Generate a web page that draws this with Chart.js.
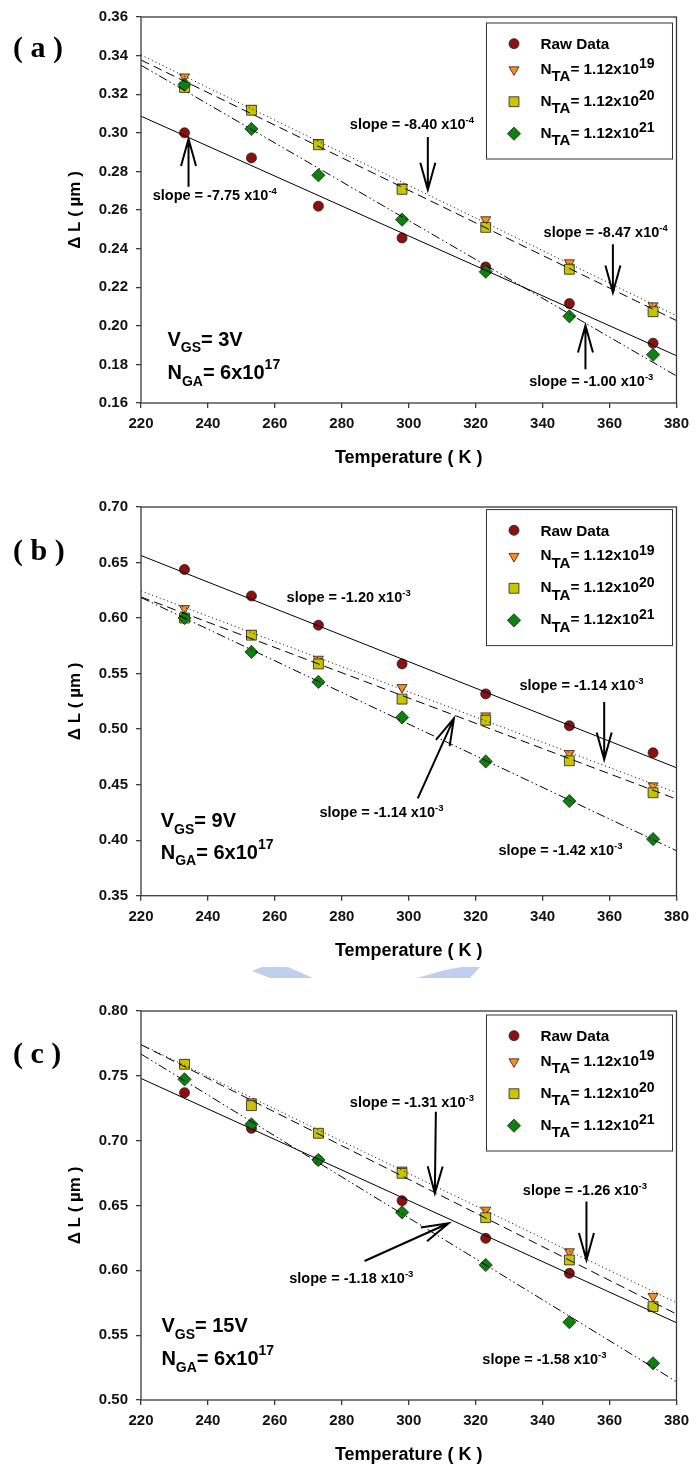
<!DOCTYPE html>
<html>
<head>
<meta charset="utf-8">
<script src="https://cdn.jsdelivr.net/npm/chart.js@4/dist/chart.umd.min.js"></script>
<style>
  body { margin: 0; background: #fff; width: 696px; height: 1470px; position: relative; overflow: hidden; }
  canvas { position: absolute; left: 0; }
</style>
</head>
<body>
<canvas id="chartA" width="696" height="490" style="top:0"></canvas>
<canvas id="chartB" width="696" height="490" style="top:490px"></canvas>
<canvas id="chartC" width="696" height="490" style="top:980px"></canvas>
<script>
// temperatures (K) of the measured points, and the span of the fitted lines
const TEMPS = [233, 253, 273, 298, 323, 348, 373];
const FIT_X = [220, 380];

// (a) V_GS = 3V
const A_RAW = [0.300, 0.287, 0.262, 0.2455, 0.2305, 0.2115, 0.191];
const A_N19 = [0.329, 0.3125, 0.295, 0.272, 0.255, 0.2327, 0.2104];
const A_N20 = [0.3235, 0.3117, 0.2938, 0.2707, 0.251, 0.2293, 0.2073];
const A_N21 = [0.325, 0.302, 0.278, 0.255, 0.228, 0.2049, 0.185];
const A_FIT_RAW = [0.3086, 0.1845];
const A_FIT_N19 = [0.3403, 0.2052];
const A_FIT_N20 = [0.3377, 0.2027];
const A_FIT_N21 = [0.335, 0.174];

// (b) V_GS = 9V
const B_RAW = [0.6437, 0.6199, 0.5936, 0.5587, 0.5317, 0.503, 0.4787];
const B_N19 = [0.6086, 0.586, 0.563, 0.5375, 0.512, 0.4781, 0.449];
const B_N20 = [0.600, 0.5846, 0.5587, 0.527, 0.508, 0.4715, 0.4427];
const B_N21 = [0.600, 0.5695, 0.5425, 0.5105, 0.4709, 0.4352, 0.401];
const B_FIT_RAW = [0.6563, 0.4652];
const B_FIT_N19 = [0.6244, 0.4427];
const B_FIT_N20 = [0.619, 0.437];
const B_FIT_N21 = [0.6185, 0.3905];

// (c) V_GS = 15V
const C_RAW = [0.737, 0.7095, 0.685, 0.6537, 0.6247, 0.5977, 0.572];
const C_N19 = [0.760, 0.730, 0.7062, 0.6774, 0.6465, 0.6144, 0.580];
const C_N20 = [0.7589, 0.727, 0.7057, 0.6748, 0.6406, 0.608, 0.572];
const C_N21 = [0.7473, 0.7126, 0.6851, 0.6447, 0.6041, 0.560, 0.5283];
const C_FIT_RAW = [0.748, 0.5596];
const C_FIT_N19 = [0.7743, 0.575];
const C_FIT_N20 = [0.774, 0.5663];
const C_FIT_N21 = [0.7668, 0.5141];

const LEGEND_EXP = ['19', '20', '21'];

const FONT = '"Liberation Sans", Arial, sans-serif';
const SERIF = '"Liberation Serif", "Times New Roman", serif';

// marker looks: raw, 1e19, 1e20, 1e21
const MARKERS = [
  { style: 'circle', radius: 5, rotation: 0, bg: '#8e0f0f' },
  { style: 'triangle', radius: 5.8, rotation: 180, bg: '#ff8a1e' },
  { style: 'rect', radius: 7, rotation: 0, bg: '#c9c400' },
  { style: 'rectRot', radius: 6.6, rotation: 0, bg: '#0c820c' },
];
const DASHES = [[], [1, 3], [9, 5], [9, 3, 1.5, 3, 1.5, 3]];

const toPts = (xs, ys) => xs.map((x, i) => ({ x: x, y: ys[i] }));

function rich(ctx, x, cy, size, parts) {
  const base = cy + size * 0.36;
  ctx.textAlign = 'left';
  ctx.textBaseline = 'alphabetic';
  let cx = x;
  for (const [t, fs, dy] of parts) {
    ctx.font = `bold ${fs}px ${FONT}`;
    ctx.fillText(t, cx, base + dy);
    cx += ctx.measureText(t).width;
  }
}

function arrow(ctx, x1, y1, x2, y2) {
  const ang = Math.atan2(y2 - y1, x2 - x1);
  const L = 27, W = 7.5;
  const bx = x2 - L * Math.cos(ang), by = y2 - L * Math.sin(ang);
  const nx = -Math.sin(ang) * W, ny = Math.cos(ang) * W;
  ctx.beginPath();
  ctx.moveTo(x1, y1);
  ctx.lineTo(x2, y2);
  ctx.moveTo(bx + nx, by + ny);
  ctx.lineTo(x2, y2);
  ctx.lineTo(bx - nx, by - ny);
  ctx.stroke();
}

function marker(ctx, m, x, y) {
  ctx.fillStyle = m.bg;
  ctx.strokeStyle = '#222';
  ctx.lineWidth = 0.8;
  ctx.beginPath();
  const r = m.radius;
  if (m.style === 'circle') {
    ctx.arc(x, y, r, 0, Math.PI * 2);
  } else if (m.style === 'triangle') {
    ctx.moveTo(x, y + r);
    ctx.lineTo(x - r * 0.866, y - r / 2);
    ctx.lineTo(x + r * 0.866, y - r / 2);
    ctx.closePath();
  } else if (m.style === 'rect') {
    const s = r * Math.SQRT1_2;
    ctx.rect(x - s, y - s, 2 * s, 2 * s);
  } else {
    ctx.moveTo(x, y - r); ctx.lineTo(x + r, y); ctx.lineTo(x, y + r); ctx.lineTo(x - r, y);
    ctx.closePath();
  }
  ctx.fill();
  ctx.stroke();
}

function decor(p) {
  return {
    id: 'decor',
    afterDraw(chart) {
      const { ctx, chartArea: a } = chart;
      const sx = chart.scales.x, sy = chart.scales.y;
      ctx.save();

      // frame
      ctx.strokeStyle = '#3a3a3a';
      ctx.lineWidth = 1.3;
      ctx.strokeRect(a.left, a.top, a.right - a.left, a.bottom - a.top);

      ctx.fillStyle = '#000';
      // axis titles
      ctx.font = `bold 18px ${FONT}`;
      ctx.textAlign = 'center';
      ctx.textBaseline = 'middle';
      ctx.fillText('Temperature ( K )', (a.left + a.right) / 2, a.bottom + 55);
      ctx.save();
      ctx.translate(75, (a.top + a.bottom) / 2);
      ctx.rotate(-Math.PI / 2);
      ctx.font = `bold 17px ${FONT}`;
      ctx.fillText('\u0394 L ( \u00b5m )', 0, 0);
      ctx.restore();

      // panel letter
      ctx.font = `bold 30px ${SERIF}`;
      ctx.textAlign = 'left';
      ctx.fillText(p.letter, 13, a.top + p.letterDy);

      // legend box
      const lx = a.right - 190, ly = a.top + p.legendDy;
      ctx.strokeStyle = '#333';
      ctx.lineWidth = 1;
      ctx.fillStyle = '#fff';
      ctx.fillRect(lx, ly, 186, 136);
      ctx.strokeRect(lx, ly, 186, 136);
      const mRows = [20.7, 46.7, 78.7, 110.7];
      const tRows = [20.5, 45.3, 77.2, 109.2];
      MARKERS.forEach((m, i) => marker(ctx, m, lx + 27.5, ly + mRows[i]));
      ctx.fillStyle = '#000';
      rich(ctx, lx + 54, ly + tRows[0], 15, [['Raw Data', 15.3, 0]]);
      LEGEND_EXP.forEach((e, i) => {
        rich(ctx, lx + 54, ly + tRows[i + 1], 15,
          [['N', 15.3, 0], ['TA', 15, 7.5], ['= 1.12x10', 15.3, 0], [e, 14, -5.5]]);
      });

      // bias / doping text
      rich(ctx, sx.getPixelForValue(p.bias.x), sy.getPixelForValue(p.bias.y1), 20,
        [['V', 20, 0], ['GS', 14, 6.5], ['= ' + p.bias.v, 20, 0]]);
      rich(ctx, sx.getPixelForValue(p.bias.x), sy.getPixelForValue(p.bias.y2), 20,
        [['N', 20, 0], ['GA', 14, 6.5], ['= 6x10', 20, 0], ['17', 14, -10]]);

      // slope notes
      p.notes.forEach(n => {
        rich(ctx, sx.getPixelForValue(n.x), sy.getPixelForValue(n.y), 14.5,
          [['slope = ' + n.v + ' x10', 14.5, 0], [n.e, 9.5, -6]]);
      });
      ctx.strokeStyle = '#000';
      ctx.lineWidth = 2;
      p.arrows.forEach(r => {
        arrow(ctx, sx.getPixelForValue(r[0]), sy.getPixelForValue(r[1]),
          sx.getPixelForValue(r[2]), sy.getPixelForValue(r[3]));
      });

      // faint watermark pieces between (b) and (c)
      if (p.watermark) {
        ctx.fillStyle = 'rgba(140,165,225,0.55)';
        ctx.beginPath();
        ctx.moveTo(252, 481); ctx.lineTo(262, 477); ctx.lineTo(288, 477);
        ctx.lineTo(313, 488); ctx.lineTo(270, 488); ctx.closePath();
        ctx.fill();
        ctx.beginPath();
        ctx.moveTo(417, 488); ctx.lineTo(445, 480); ctx.lineTo(462, 477);
        ctx.lineTo(480, 477); ctx.lineTo(470, 488); ctx.closePath();
        ctx.fill();
      }
      ctx.restore();
    }
  };
}

function buildChart(id, p) {
  const fits = p.fits.map((f, i) => ({
    data: toPts(FIT_X, f),
    showLine: true,
    pointRadius: 0,
    borderColor: '#000',
    borderWidth: 1,
    borderDash: DASHES[i],
    fill: false,
    order: 0,
  }));
  const pts = p.series.map((s, i) => ({
    data: toPts(TEMPS, s),
    showLine: false,
    pointStyle: MARKERS[i].style,
    pointRotation: MARKERS[i].rotation,
    pointRadius: MARKERS[i].radius,
    pointBackgroundColor: MARKERS[i].bg,
    pointBorderColor: '#222',
    pointBorderWidth: 0.8,
    order: 4 - i,
  }));
  const tickFont = { family: FONT, size: 15, weight: 'bold' };
  return new Chart(document.getElementById(id).getContext('2d'), {
    type: 'scatter',
    data: { datasets: fits.concat(pts) },
    options: {
      responsive: false,
      animation: false,
      events: [],
      layout: { padding: { top: p.padTop, right: 14, left: 0, bottom: 0 } },
      plugins: { legend: { display: false }, tooltip: { enabled: false } },
      scales: {
        x: {
          type: 'linear', min: 220, max: 380,
          ticks: { stepSize: 20, maxRotation: 0, padding: 7, color: '#111', font: tickFont },
          grid: { drawOnChartArea: false, drawTicks: true, tickLength: 5, color: '#3a3a3a', lineWidth: 1.3 },
          border: { display: false },
          afterFit: s => { s.height = p.xAxisH; },
        },
        y: {
          type: 'linear', min: p.yMin, max: p.yMax,
          ticks: { stepSize: p.yStep, padding: 8, color: '#111', font: tickFont, callback: v => v.toFixed(2) },
          grid: { drawOnChartArea: false, drawTicks: true, tickLength: 5, color: '#3a3a3a', lineWidth: 1.3 },
          border: { display: false },
          afterFit: s => { s.width = 141; },
        },
      },
    },
    plugins: [decor(p)],
  });
}

buildChart('chartA', {
  padTop: 14, xAxisH: 87, yMin: 0.16, yMax: 0.36, yStep: 0.02,
  letter: '( a )', letterDy: 32, legendDy: 6,
  series: [A_RAW, A_N19, A_N20, A_N21],
  fits: [A_FIT_RAW, A_FIT_N19, A_FIT_N20, A_FIT_N21],
  bias: { v: '3V', x: 227.9, y1: 0.1933, y2: 0.1761 },
  notes: [
    { v: '-7.75', e: '-4', x: 223.5, y: 0.2678 },
    { v: '-8.40', e: '-4', x: 282.4, y: 0.3045 },
    { v: '-8.47', e: '-4', x: 340.3, y: 0.2489 },
    { v: '-1.00', e: '-3', x: 336, y: 0.1715 },
  ],
  arrows: [
    [234.2, 0.2721, 234.2, 0.2968],
    [305.7, 0.2978, 305.7, 0.2705],
    [361, 0.2423, 361, 0.2172],
    [352.8, 0.1775, 352.8, 0.2001],
  ],
});

buildChart('chartB', {
  padTop: 16.7, xAxisH: 84.3, yMin: 0.35, yMax: 0.70, yStep: 0.05,
  letter: '( b )', letterDy: 45, legendDy: 2.6, watermark: true,
  series: [B_RAW, B_N19, B_N20, B_N21],
  fits: [B_FIT_RAW, B_FIT_N19, B_FIT_N20, B_FIT_N21],
  bias: { v: '9V', x: 225.9, y1: 0.4181, y2: 0.3896 },
  notes: [
    { v: '-1.20', e: '-3', x: 263.5, y: 0.619 },
    { v: '-1.14', e: '-3', x: 333.1, y: 0.5396 },
    { v: '-1.14', e: '-3', x: 273.3, y: 0.4256 },
    { v: '-1.42', e: '-3', x: 326.8, y: 0.3917 },
  ],
  arrows: [
    [358.4, 0.5245, 358.4, 0.4727],
    [302.7, 0.4376, 313.5, 0.5096],
  ],
});

buildChart('chartC', {
  padTop: 31, xAxisH: 70, yMin: 0.50, yMax: 0.80, yStep: 0.05,
  letter: '( c )', letterDy: 44, legendDy: 4,
  series: [C_RAW, C_N19, C_N20, C_N21],
  fits: [C_FIT_RAW, C_FIT_N19, C_FIT_N20, C_FIT_N21],
  bias: { v: '15V', x: 226.1, y1: 0.5578, y2: 0.5324 },
  notes: [
    { v: '-1.31', e: '-3', x: 282.4, y: 0.730 },
    { v: '-1.26', e: '-3', x: 334.1, y: 0.6625 },
    { v: '-1.18', e: '-3', x: 264.3, y: 0.5946 },
    { v: '-1.58', e: '-3', x: 322, y: 0.5316 },
  ],
  arrows: [
    [308.1, 0.7223, 307.8, 0.6594],
    [353.1, 0.653, 353.1, 0.608],
    [286.8, 0.6072, 311.9, 0.6363],
  ],
});
</script>
</body>
</html>
